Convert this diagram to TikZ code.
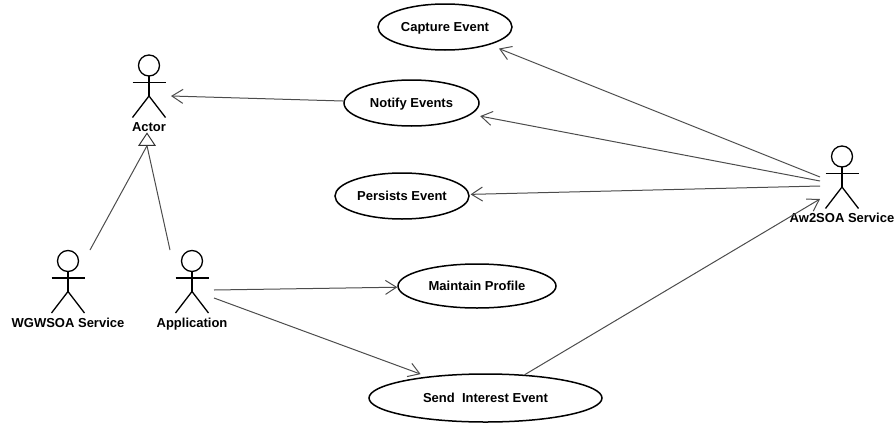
\documentclass[tikz,border=0pt]{standalone}
\usepackage{fontspec}
\setmainfont{Liberation Sans}
\usetikzlibrary{arrows.meta, shapes.geometric}

\tikzset{
    usecase/.style={draw, ellipse, line width=1.5pt, inner sep=0pt, text height=10pt, text depth=1pt, font=\bfseries\fontsize{13}{15}\selectfont},
    actorline/.style={line width=1.3pt},
    actorbox/.style={minimum width=44pt, minimum height=63pt, inner sep=0pt, outer sep=0pt},
    actorname/.style={inner sep=0pt, text height=10pt, text depth=1pt, font=\bfseries\fontsize{13}{15}\selectfont},
    assoc/.style={draw=black!70, line width=1pt, -{Straight Barb[length=11pt,width=14pt]}},
    genline/.style={draw=black!70, line width=1pt},
    gentip/.style={draw=black!80, isosceles triangle, isosceles triangle stretches, shape border rotate=90,
        minimum width=16pt, minimum height=12pt, inner sep=0pt, line width=1pt},
    stickman/.pic={
        \node[actorbox] (-box) at (0,0) {};
        \draw[actorline] (0,-20.5) circle (10.5);
        \draw[actorline] (-16.5,-3.5) -- (16.5,-3.5);
        \draw[actorline] (0,-10) -- (0,10);
        \draw[actorline] (-16.5,31.5) -- (0,10) -- (16.5,31.5);
        \node[actorname] (-name) at (0,41) {#1};
    }
}

\begin{document}
\begin{tikzpicture}[x=1pt, y=-1pt]
    \useasboundingbox (0,0) rectangle (896,423);

    % actors
    \pic (actor) at (149,86) {stickman=Actor};
    \pic (wgw) at (68,281.5) {stickman=WGWSOA Service};
    \pic (app) at (192,281.5) {stickman=Application};
    \pic (aw) at (842,177) {stickman=Aw2SOA Service};

    % use cases
    \node[usecase, minimum width=134pt, minimum height=46pt] (capture) at (445,27) {Capture Event};
    \node[usecase, minimum width=135pt, minimum height=46pt] (notify) at (411.5,103) {Notify Events};
    \node[usecase, minimum width=134pt, minimum height=46pt] (persists) at (402,196) {Persists Event};
    \node[usecase, minimum width=158pt, minimum height=44pt] (maintain) at (477,286) {Maintain Profile};
    \node[usecase, minimum width=233pt, minimum height=48pt] (send) at (485.5,398) {Send\ \ Interest Event};

    \node[gentip] (gen) at (147,141) {};

    \draw[genline] (wgw-box.north east) -- (gen.lower side);
    \draw[genline] (app-box.north west) -- (gen.lower side);

    \draw[assoc] (notify) -- ([yshift=-10pt]actor-box.east);
    \draw[assoc, shorten >=10pt] ([yshift=0pt]aw-box.west) -- (capture);
    \draw[assoc, shorten >=9pt] ([yshift=-4pt]aw-box.west) -- (notify);
    \draw[assoc, shorten >=1pt] ([yshift=-9pt]aw-box.west) -- (persists);
    \draw[assoc] ([yshift=-8.5pt]app-box.east) -- (maintain);
    \draw[assoc, shorten >=7pt] ([yshift=-16.5pt]app-box.east) -- (send);
    \draw[assoc] (send) -- ([yshift=-22pt]aw-box.west);
\end{tikzpicture}
\end{document}
